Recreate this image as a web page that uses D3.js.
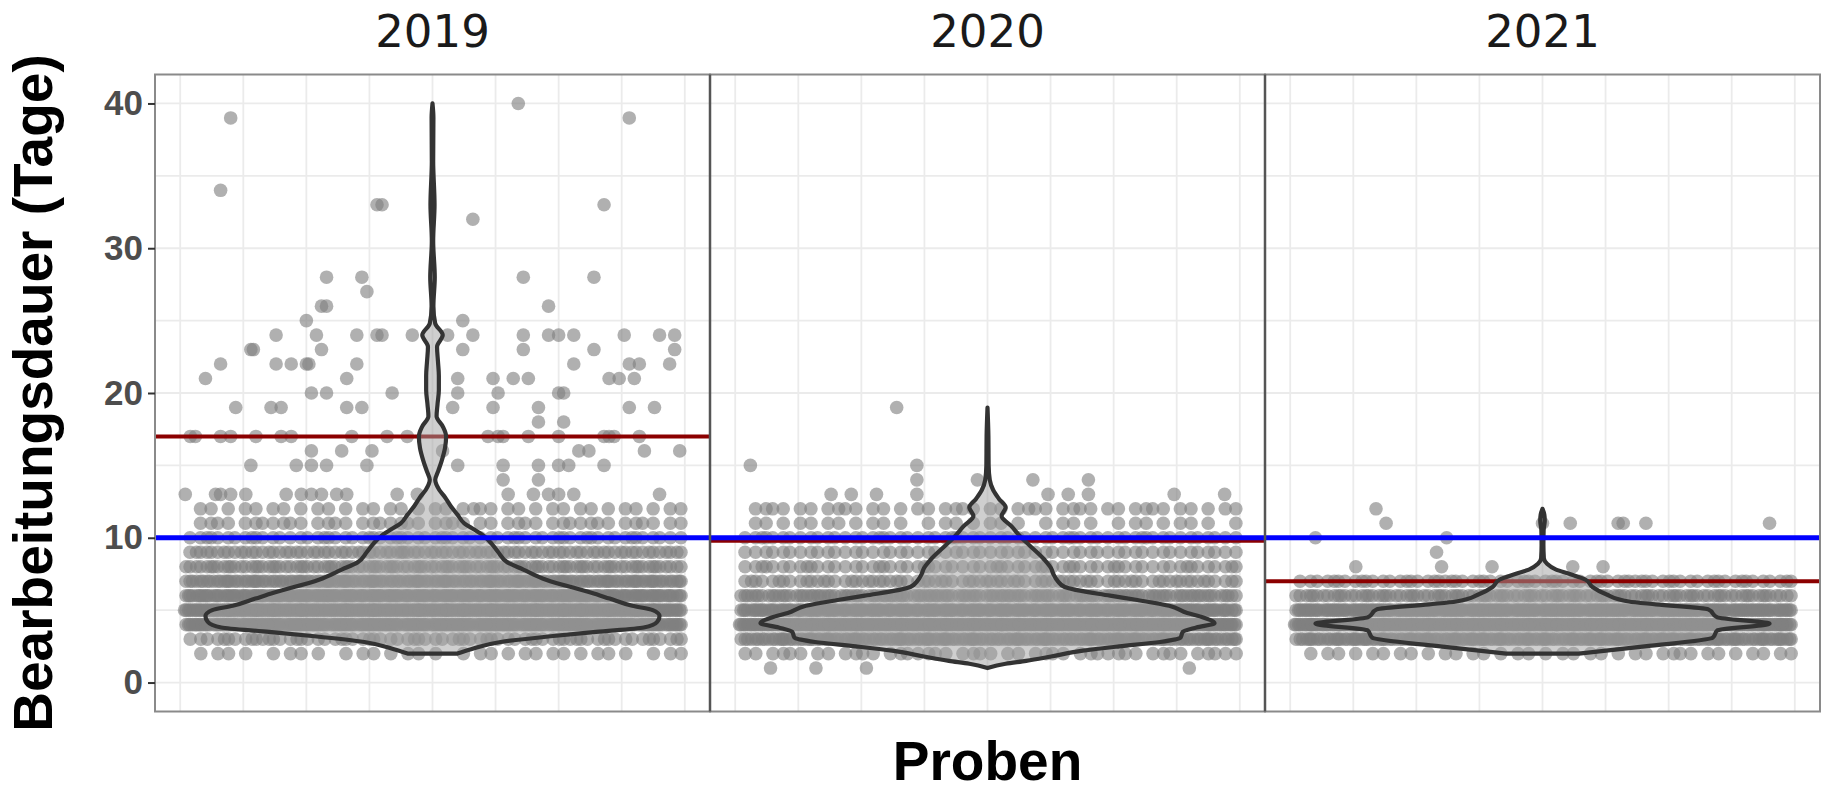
<!DOCTYPE html>
<html lang="de">
<head>
<meta charset="UTF-8">
<title>Bearbeitungsdauer je Jahr</title>
<script src="https://d3js.org/d3.v7.min.js"></script>
<style>
  body { margin: 0; background: #fff; }
  text { font-family: "Liberation Sans", Arial, sans-serif; }
</style>
</head>
<body>
<svg id="chart" width="1826" height="787"></svg>
<script>
// Facetten
var years = ["2019", "2020", "2021"];

// dichte Zeilen: Bearbeitungsdauer (Tage) und Anzahl Proben
var days2019 = [2, 3, 4, 5, 6, 7, 8, 9, 10, 11, 12];
var counts2019 = [30, 70, 220, 250, 200, 160, 110, 90, 65, 45, 35];
var days2020 = [2, 3, 4, 5, 6, 7, 8, 9, 10, 11, 12];
var counts2020 = [45, 160, 250, 200, 130, 80, 65, 55, 60, 30, 40];
var days2021 = [2, 3, 4, 5, 6, 7];
var counts2021 = [35, 170, 260, 220, 110, 70];

// einzelne Proben [Tage, Jitter-x]
var sparse2019 = [
  [40, 1.17], [39, 0.60], [39, 1.39], [34, 0.58],
  [33, 0.89], [33, 0.90], [33, 1.34], [32, 1.08],
  [28, 0.79], [28, 0.86], [28, 1.18], [28, 1.32], [27, 0.87],
  [26, 0.78], [26, 0.79], [26, 1.23], [25, 0.75], [25, 1.06],
  [24, 0.69], [24, 0.77], [24, 0.85], [24, 0.89], [24, 0.90], [24, 0.96], [24, 1.03], [24, 1.08],
  [24, 1.18], [24, 1.23], [24, 1.25], [24, 1.28], [24, 1.38], [24, 1.45], [24, 1.48],
  [23, 0.64], [23, 0.645], [23, 0.78], [23, 1.06], [23, 1.18], [23, 1.32], [23, 1.48],
  [22, 0.58], [22, 0.69], [22, 0.72], [22, 0.75], [22, 0.755], [22, 0.85], [22, 1.28], [22, 1.39], [22, 1.41], [22, 1.47],
  [21, 0.55], [21, 0.83], [21, 1.05], [21, 1.12], [21, 1.16], [21, 1.19], [21, 1.35], [21, 1.37], [21, 1.40],
  [20, 0.76], [20, 0.79], [20, 0.92], [20, 1.05], [20, 1.13], [20, 1.25], [20, 1.26],
  [19, 0.61], [19, 0.68], [19, 0.70], [19, 0.83], [19, 0.86], [19, 1.04], [19, 1.12], [19, 1.21], [19, 1.39], [19, 1.44],
  [18, 1.21], [18, 1.26],
  [17, 0.52], [17, 0.53], [17, 0.58], [17, 0.60], [17, 0.65], [17, 0.70], [17, 0.72], [17, 0.84], [17, 0.91], [17, 0.95],
  [17, 1.11], [17, 1.13], [17, 1.14], [17, 1.19], [17, 1.25], [17, 1.34], [17, 1.35], [17, 1.36], [17, 1.41],
  [16, 0.76], [16, 0.82], [16, 0.88], [16, 1.02], [16, 1.29], [16, 1.31], [16, 1.42], [16, 1.49],
  [15, 0.64], [15, 0.73], [15, 0.76], [15, 0.79], [15, 0.87], [15, 1.05], [15, 1.14], [15, 1.21], [15, 1.25], [15, 1.27], [15, 1.34],
  [14, 1.14], [14, 1.21],
  [13, 0.51], [13, 0.57], [13, 0.58], [13, 0.60], [13, 0.63], [13, 0.71], [13, 0.74], [13, 0.76], [13, 0.78], [13, 0.81],
  [13, 0.83], [13, 0.93], [13, 0.97], [13, 1.15], [13, 1.20], [13, 1.23], [13, 1.25], [13, 1.28], [13, 1.45]
];
var sparse2020 = [
  [19, 0.82], [15, 0.53], [15, 0.86],
  [14, 0.86], [14, 0.98], [14, 1.09], [14, 1.20],
  [13, 0.69], [13, 0.73], [13, 0.78], [13, 0.86], [13, 1.12], [13, 1.16], [13, 1.20], [13, 1.37], [13, 1.47],
  [1, 0.57], [1, 0.66], [1, 0.76], [1, 1.40]
];
var sparse2021 = [
  [12, 0.67],
  [11, 0.69], [11, 1.00], [11, 1.055], [11, 1.15], [11, 1.16], [11, 1.205], [11, 1.45],
  [10, 0.55], [10, 0.81], [9, 0.79],
  [8, 0.63], [8, 0.80], [8, 0.90], [8, 1.06], [8, 1.12]
];

// Violinen: [Tage, relative halbe Breite]
var violin2019 = [[2.0, 0.11], [2.3, 0.17], [2.8, 0.30], [3.2, 0.52], [3.5, 0.72], [3.8, 0.93], [4.2, 0.99], [4.6, 1.0],
  [5.0, 0.97], [5.3, 0.88], [5.8, 0.78], [6.2, 0.70], [7.1, 0.50], [7.8, 0.40], [8.3, 0.33], [9.0, 0.29], [9.6, 0.26],
  [10.2, 0.22], [10.6, 0.18], [11.0, 0.14], [11.6, 0.11], [12.2, 0.08], [12.8, 0.055], [13.3, 0.03], [14.0, 0.012],
  [14.6, 0.025], [15.3, 0.04], [16.2, 0.055], [17.0, 0.06], [17.7, 0.045], [18.4, 0.018], [19.2, 0.022], [20.2, 0.028],
  [21.2, 0.028], [22.2, 0.024], [23.2, 0.02], [24.0, 0.045], [24.8, 0.012], [26, 0.004], [28, 0.01], [30.5, 0.003],
  [33, 0.009], [36, 0.003], [39, 0.004], [40, 0]];
var violin2020 = [[1.0, 0], [1.3, 0.08], [1.5, 0.17], [1.8, 0.28], [2.2, 0.42], [2.5, 0.58], [2.8, 0.76], [3.1, 0.85],
  [3.5, 0.86], [3.8, 0.92], [4.1, 1.0], [4.5, 0.95], [4.8, 0.88], [5.3, 0.80], [5.7, 0.66], [6.0, 0.54], [6.6, 0.34],
  [7.0, 0.31], [7.5, 0.29], [7.9, 0.28], [8.5, 0.25], [9.4, 0.19], [10.0, 0.15], [10.8, 0.105], [11.5, 0.062],
  [12.1, 0.08], [12.7, 0.05], [13.3, 0.025], [14, 0.01], [15, 0.005], [17, 0.004], [19, 0]];
var violin2021 = [[2.0, 0.16], [2.5, 0.45], [3.1, 0.75], [3.6, 0.77], [4.07, 1.0], [4.5, 0.77], [5.05, 0.73], [5.4, 0.5],
  [5.6, 0.38], [6.1, 0.28], [6.6, 0.22], [7.1, 0.19], [7.5, 0.12], [7.8, 0.06], [8.2, 0.02], [8.6, 0.006], [9.5, 0.004],
  [10.5, 0.005], [11.2, 0.01], [11.6, 0.008], [12, 0]];

// Referenzlinien
var redLines = [17, 9.8, 7];
var blueLine = 10;

var yTicks = [0, 10, 20, 30, 40];
var yMinor = [5, 15, 25, 35];
var xGrid = [0.5, 0.625, 0.75, 0.875, 1, 1.125, 1.25, 1.375, 1.5];

var panels = [
  { year: "2019", days: days2019, counts: counts2019, sparse: sparse2019, violin: violin2019, red: redLines[0] },
  { year: "2020", days: days2020, counts: counts2020, sparse: sparse2020, violin: violin2020, red: redLines[1] },
  { year: "2021", days: days2021, counts: counts2021, sparse: sparse2021, violin: violin2021, red: redLines[2] }
];

var svg = d3.select("#chart");
var plotLeft = 155, plotRight = 1820, plotTop = 74.5, plotBottom = 711.5;

var y = d3.scaleLinear().domain([-2, 42]).range([plotBottom, plotTop]);
var panelX = d3.scaleBand().domain(years).range([plotLeft, plotRight]).padding(0);
var pw = panelX.bandwidth();

// gleichmäßige Jitter-Verteilung innerhalb einer Zeile
function jitterRow(n, day) {
  var out = [];
  var off = (day * 0.3819) % 1;
  for (var i = 0; i < n; i++) {
    var t = (off + i * 0.6180339887) % 1;
    out.push(0.507 + t * 0.986);
  }
  return out;
}

panels.forEach(function (p) {
  var x0 = panelX(p.year);
  var x = d3.scaleLinear().domain([0.45, 1.55]).range([x0, x0 + pw]);
  var g = svg.append("g");

  // Gitter
  g.selectAll(".gv").data(xGrid).enter().append("line")
    .attr("x1", d => x(d)).attr("x2", d => x(d))
    .attr("y1", plotTop).attr("y2", plotBottom)
    .attr("stroke", "#ebebeb").attr("stroke-width", 1.8);
  g.selectAll(".gh").data(yTicks.concat(yMinor)).enter().append("line")
    .attr("x1", x0).attr("x2", x0 + pw)
    .attr("y1", d => y(d)).attr("y2", d => y(d))
    .attr("stroke", "#ebebeb").attr("stroke-width", 1.8);

  // Punkte
  var pts = [];
  p.days.forEach(function (d, i) {
    jitterRow(p.counts[i], d).forEach(function (jx) { pts.push([d, jx]); });
  });
  p.sparse.forEach(function (s) { pts.push(s); });

  g.selectAll("circle").data(pts).enter().append("circle")
    .attr("cx", d => x(d[1]))
    .attr("cy", d => y(d[0]))
    .attr("r", 6.8)
    .attr("fill", "#7f7f7f")
    .attr("fill-opacity", 0.62);

  // rote Linie
  g.append("line")
    .attr("x1", x0).attr("x2", x0 + pw)
    .attr("y1", y(p.red)).attr("y2", y(p.red))
    .attr("stroke", "#8b0000").attr("stroke-width", 4);

  // Violine
  var area = d3.area().curve(d3.curveMonotoneY)
    .y(d => y(d[0]))
    .x0(d => x(1 - 0.45 * d[1]))
    .x1(d => x(1 + 0.45 * d[1]));
  g.append("path")
    .datum(p.violin)
    .attr("d", area)
    .attr("fill", "#a0a0a0")
    .attr("fill-opacity", 0.5)
    .attr("stroke", "#333333")
    .attr("stroke-width", 4.2)
    .attr("stroke-linejoin", "round");

  // blaue Linie
  g.append("line")
    .attr("x1", x0).attr("x2", x0 + pw)
    .attr("y1", y(blueLine)).attr("y2", y(blueLine))
    .attr("stroke", "#0000ff").attr("stroke-width", 5);

  // Rahmen
  g.append("rect")
    .attr("x", x0).attr("y", plotTop)
    .attr("width", pw).attr("height", plotBottom - plotTop)
    .attr("fill", "none")
    .attr("stroke", "#8a8a8a").attr("stroke-width", 2);

  // Facettentitel
  svg.append("text")
    .attr("x", x0 + pw / 2).attr("y", 47)
    .attr("text-anchor", "middle")
    .style("font-family", "'DejaVu Sans', sans-serif")
    .style("font-size", "45px")
    .attr("fill", "#1a1a1a")
    .text(p.year);
});

// Trennlinien zwischen den Facetten
svg.selectAll(".sep").data(years.slice(1)).enter().append("line")
  .attr("x1", d => panelX(d)).attr("x2", d => panelX(d))
  .attr("y1", plotTop).attr("y2", plotBottom)
  .attr("stroke", "#555").attr("stroke-width", 2.5);

// y-Achse
var yAxis = svg.append("g")
  .attr("transform", "translate(" + plotLeft + ",0)")
  .call(d3.axisLeft(y).tickValues(yTicks).tickSize(7).tickPadding(5));
yAxis.select(".domain").remove();
yAxis.selectAll(".tick line").attr("stroke", "#333").attr("stroke-width", 2);
yAxis.selectAll(".tick text")
  .style("font-family", "'Liberation Sans', Arial, sans-serif")
  .style("font-size", "35px")
  .style("font-weight", "bold")
  .attr("fill", "#4d4d4d");

// Achsentitel
svg.append("text")
  .attr("transform", "translate(52," + ((plotTop + plotBottom) / 2) + ") rotate(-90)")
  .attr("text-anchor", "middle")
  .style("font-size", "55px")
  .style("font-weight", "bold")
  .attr("fill", "#000")
  .text("Bearbeitungsdauer (Tage)");

svg.append("text")
  .attr("x", (plotLeft + plotRight) / 2).attr("y", 780)
  .attr("text-anchor", "middle")
  .style("font-size", "55px")
  .style("font-weight", "bold")
  .attr("fill", "#000")
  .text("Proben");
</script>
</body>
</html>
